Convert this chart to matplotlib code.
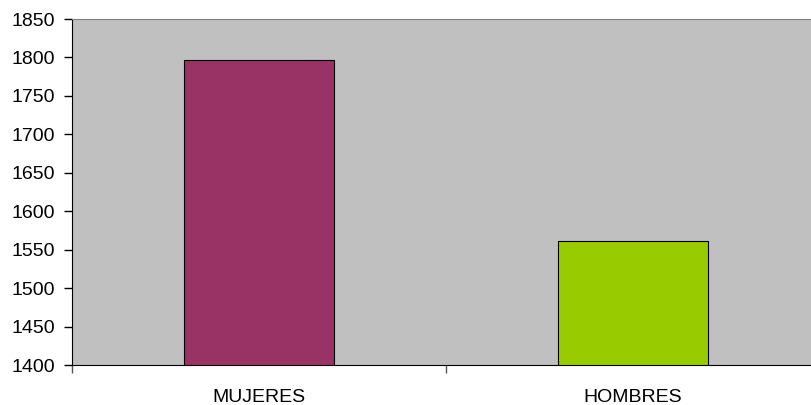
import matplotlib
matplotlib.use("Agg")
import matplotlib.pyplot as plt
import numpy as np

categories = ["MUJERES", "HOMBRES"]
values = [1797, 1561]
bar_colors = ["#993366", "#99CC00"]
y_ticks = list(range(1400, 1851, 50))

plt.rcParams["font.family"] = ["Liberation Sans", "DejaVu Sans"]

fig = plt.figure(figsize=(8.12, 4.05), dpi=100)
ax = fig.add_axes([72 / 812, 40 / 405, 748 / 812, 346 / 405])
ax.set_facecolor("#C0C0C0")

x = np.arange(len(categories))
ax.bar(x, values, width=0.4, color=bar_colors, edgecolor="black", linewidth=0.8, zorder=2)

ax.set_xlim(-0.5, len(categories) - 0.5)
ax.set_ylim(y_ticks[0], y_ticks[-1])
ax.set_yticks(y_ticks)
ax.tick_params(axis="y", direction="out", length=6, width=1, labelsize=14, pad=6.5)

# category separators as major ticks, labels on minor ticks
ax.set_xticks(np.arange(-0.5, len(categories), 1.0))
ax.set_xticklabels([])
ax.tick_params(axis="x", which="major", direction="out", length=6, width=1, color="#555555")
ax.set_xticks(x, minor=True)
ax.set_xticklabels(categories, minor=True)
ax.tick_params(axis="x", which="minor", length=0, labelsize=14, pad=17)

ax.spines["top"].set_color("#808080")
ax.spines["right"].set_visible(False)
ax.spines["left"].set_color("black")
ax.spines["bottom"].set_color("black")

fig.savefig("out.png", dpi=100)
